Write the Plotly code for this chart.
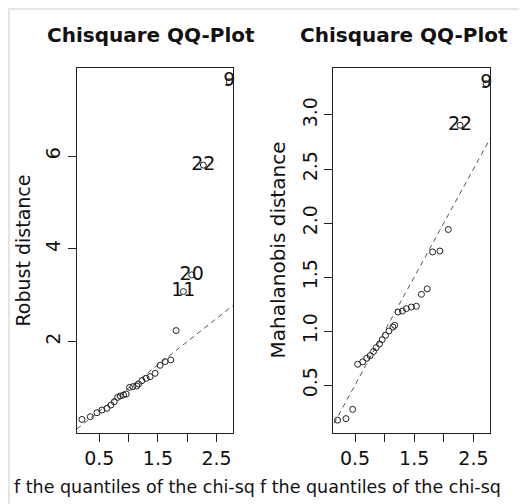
import plotly.graph_objects as go

# ---- data ----
chisq_quantiles = [0.205, 0.347, 0.46, 0.545, 0.63, 0.698, 0.755, 0.812, 0.857, 0.914,
                   0.959, 1.016, 1.073, 1.14, 1.169, 1.226, 1.30, 1.367, 1.452, 1.537,
                   1.622, 1.719, 1.81, 1.934, 2.076, 2.274, 2.716]
robust_distance = [0.323, 0.381, 0.467, 0.525, 0.561, 0.633, 0.705, 0.798, 0.827, 0.849,
                   0.870, 1.014, 1.029, 1.043, 1.086, 1.158, 1.209, 1.245, 1.317, 1.49,
                   1.569, 1.605, 2.238, 3.08, 3.44, 5.806, 7.605]
mahalanobis_distance = [0.175, 0.189, 0.275, 0.692, 0.715, 0.748, 0.772, 0.81, 0.846, 0.88,
                        0.92, 0.96, 1.0, 1.037, 1.053, 1.176, 1.185, 1.207, 1.222, 1.229,
                        1.34, 1.39, 1.732, 1.741, 1.94, 2.905, 3.29]
robust_labels = [""] * 23 + ["11", "20", "22", "9"]
maha_labels = [""] * 25 + ["22", "9"]
reference_line = [0, 4]   # y = x

x_tickvals = [0.5, 1.0, 1.5, 2.0, 2.5]
x_ticktext = ["0.5", "", "1.5", "", "2.5"]
robust_tickvals = [2, 4, 6]
maha_tickvals = [0.5, 1.0, 1.5, 2.0, 2.5, 3.0]
maha_ticktext = ["0.5", "1.0", "1.5", "2.0", "2.5", "3.0"]

panel_title = "Chisquare QQ-Plot"
x_label_visible = "f the quantiles of the chi-sq"

FONT = "DejaVu Sans"
OFF = 8                      # page offset of the figure (body margin)
W, H = 519, 496
ML, MR, MT, MB = 69, 37, 60, 71
PW, PH = W - ML - MR, H - MT - MB


def px_x(p):
    """page x pixel -> paper x"""
    return (p - OFF - ML) / PW


def px_y(p):
    """page y pixel -> paper y"""
    return (H - MB - (p - OFF)) / PH


fig = go.Figure()

marker = dict(symbol="circle-open", size=6, color="#222", line=dict(width=1, color="#222"))
line_style = dict(color="#555", width=1, dash="5px,4px")
label_font = dict(family=FONT, size=19, color="#111")

# left panel
fig.add_trace(go.Scatter(x=reference_line, y=reference_line, mode="lines", line=line_style,
                         xaxis="x", yaxis="y", hoverinfo="skip"))
fig.add_trace(go.Scatter(x=chisq_quantiles, y=robust_distance, mode="markers", marker=marker,
                         xaxis="x", yaxis="y"))
fig.add_trace(go.Scatter(x=chisq_quantiles, y=robust_distance, mode="text", text=robust_labels,
                         textposition="middle center", textfont=label_font,
                         xaxis="x", yaxis="y", cliponaxis=False))

# right panel
fig.add_trace(go.Scatter(x=reference_line, y=reference_line, mode="lines", line=line_style,
                         xaxis="x2", yaxis="y2", hoverinfo="skip"))
fig.add_trace(go.Scatter(x=chisq_quantiles, y=mahalanobis_distance, mode="markers", marker=marker,
                         xaxis="x2", yaxis="y2"))
fig.add_trace(go.Scatter(x=chisq_quantiles, y=mahalanobis_distance, mode="text", text=maha_labels,
                         textposition="middle center", textfont=label_font,
                         xaxis="x2", yaxis="y2", cliponaxis=False))

axis_common = dict(showline=True, mirror=True, linecolor="#222", linewidth=1,
                   ticks="outside", ticklen=8, tickcolor="#222", tickwidth=1,
                   showgrid=False, zeroline=False,
                   tickfont=dict(family=FONT, size=19, color="#111"))

left_dom = [0, px_x(233)]
right_dom = [px_x(333.3), 1]

fig.update_layout(
    width=W, height=H,
    margin=dict(l=ML, r=MR, t=MT, b=MB),
    paper_bgcolor="#e6e4df",
    plot_bgcolor="white",
    showlegend=False,
    xaxis=dict(domain=left_dom, range=[0.12, 2.78], tickvals=x_tickvals, ticktext=x_ticktext,
               anchor="y", **axis_common),
    yaxis=dict(domain=[0, 1], range=[0.03, 7.9], tickvals=robust_tickvals, tickangle=-90,
               anchor="x", **axis_common),
    xaxis2=dict(domain=right_dom, range=[0.133, 2.78], tickvals=x_tickvals, ticktext=x_ticktext,
                anchor="y2", **axis_common),
    yaxis2=dict(domain=[0, 1], range=[0.056, 3.435], tickvals=maha_tickvals, ticktext=maha_ticktext,
                tickangle=-90, anchor="x2", **axis_common),
    shapes=[dict(type="rect", xref="paper", yref="paper", layer="below",
                 x0=px_x(10), x1=px_x(523), y0=px_y(H + 40), y1=px_y(10),
                 fillcolor="white", line=dict(width=0))],
)

ann = []
for cx, txt in [(151, panel_title), (404, panel_title)]:
    ann.append(dict(x=px_x(cx), y=px_y(35), xref="paper", yref="paper", text="<b>%s</b>" % txt,
                    showarrow=False, xanchor="center", yanchor="middle",
                    font=dict(family=FONT, size=20, color="#111")))
for lx in [12, 258]:
    ann.append(dict(x=px_x(lx), y=px_y(487), xref="paper", yref="paper", text=x_label_visible,
                    showarrow=False, xanchor="left", yanchor="middle",
                    font=dict(family=FONT, size=17.5, color="#111")))
for cx, txt, fs in [(22, "Robust distance", 19), (277, "Mahalanobis distance", 20)]:
    ann.append(dict(x=px_x(cx), y=px_y(250.5), xref="paper", yref="paper", text=txt,
                    textangle=-90, showarrow=False, xanchor="center", yanchor="middle",
                    font=dict(family=FONT, size=fs, color="#111")))
fig.update_layout(annotations=ann)

fig.write_html("out.html")
